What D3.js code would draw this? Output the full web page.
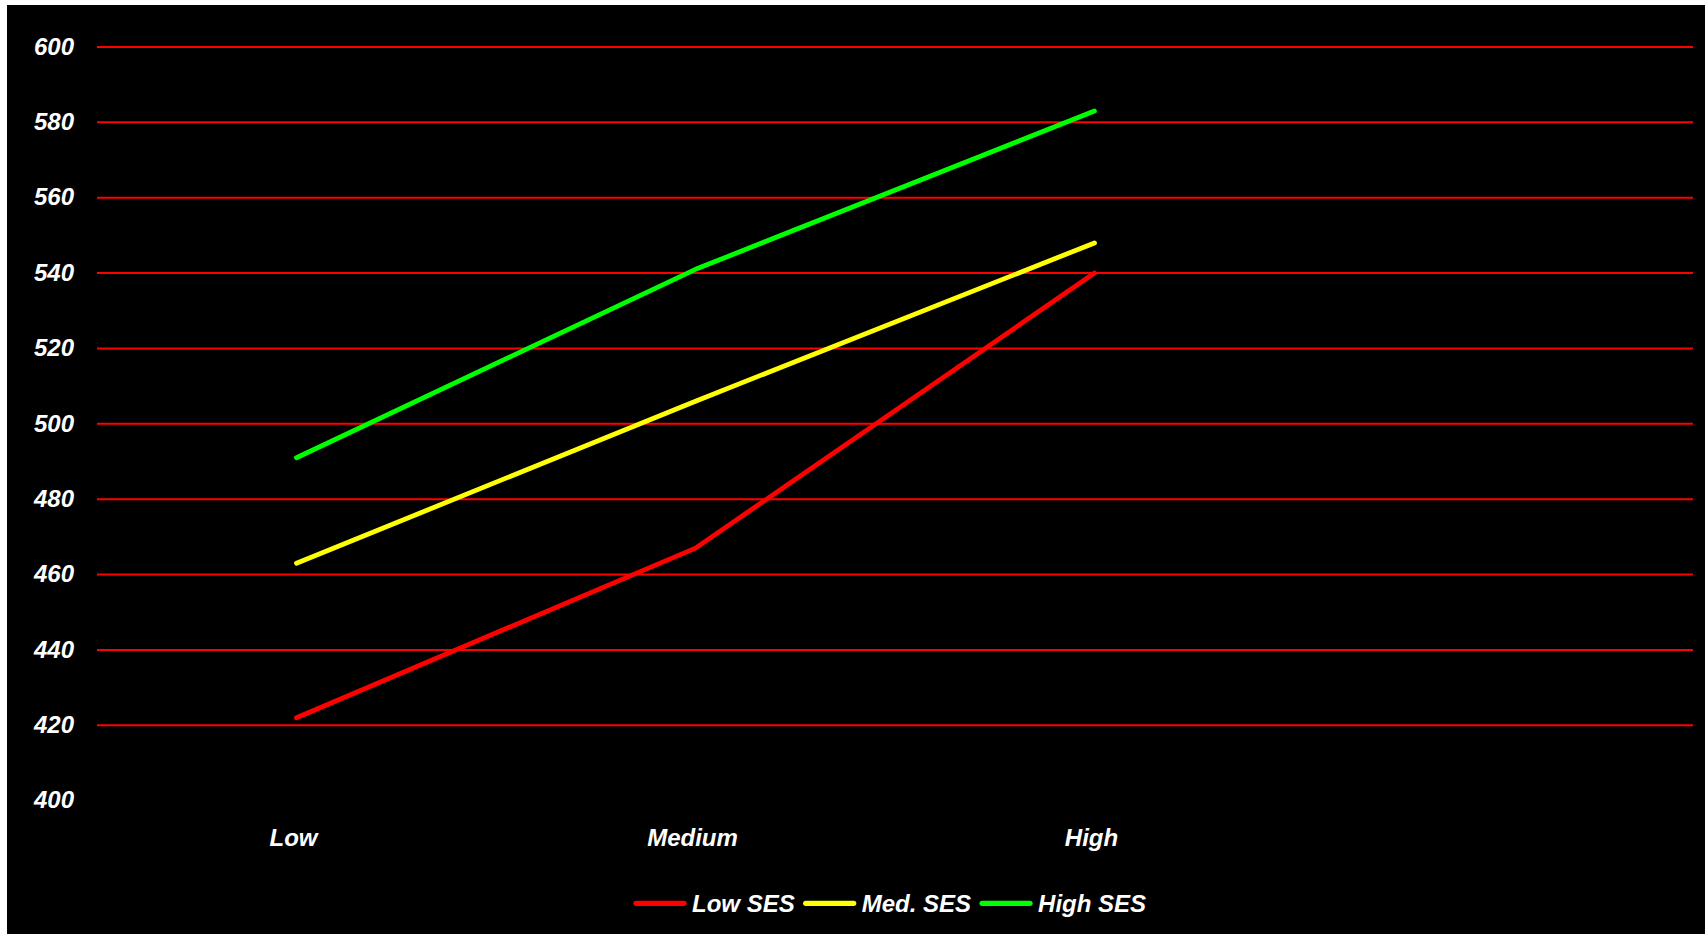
<!DOCTYPE html>
<html>
<head>
<meta charset="utf-8">
<script src="https://cdn.jsdelivr.net/npm/d3@7"></script>
<style>
  html, body { margin: 0; padding: 0; background: #fff; }
  svg { display: block; }
  text { font-family: "Liberation Sans", Arial, sans-serif; font-weight: bold; font-style: italic; fill: #fff; }
</style>
</head>
<body>
<svg id="chart" width="1705" height="934"></svg>
<script>
// Categories (a trailing blank slot leaves room on the right)
const categories = ["Low", "Medium", "High", " "];
const seriesNames = ["Low SES", "Med. SES", "High SES"];
const seriesColors = ["#ff0000", "#ffff00", "#00ff00"];
const lowSES  = [422, 467, 540];
const medSES  = [463, 506, 548];
const highSES = [491, 541, 583];
const yTicks = [400, 420, 440, 460, 480, 500, 520, 540, 560, 580, 600];

const series = [lowSES, medSES, highSES];
const FONT = "'Liberation Sans', Arial, sans-serif";
const FS = 24;

const svg = d3.select("#chart");

// black plot backdrop
svg.append("rect").attr("x", 7).attr("y", 5).attr("width", 1705 - 7).attr("height", 934 - 5).attr("fill", "#000");

const x = d3.scaleBand().domain(categories).range([97, 1693]).padding(0);
const y = d3.scaleLinear().domain([400, 600]).range([800.6, 47]);

// horizontal gridlines (none at the baseline)
svg.append("g").selectAll("line")
  .data(yTicks.filter(t => t > 400))
  .join("line")
  .attr("x1", 97).attr("x2", 1693)
  .attr("y1", d => y(d)).attr("y2", d => y(d))
  .attr("stroke", "#ff0000").attr("stroke-width", 2);

// y axis labels
const yAxis = d3.axisLeft(y).tickValues(yTicks).tickSize(0).tickPadding(0).tickFormat(d3.format("d"));
const gy = svg.append("g").attr("transform", "translate(74,0)").call(yAxis);
gy.select(".domain").remove();
gy.selectAll("text")
  .attr("font-size", FS).attr("fill", "#fff").attr("dy", "0.3em")
  .style("font-family", FONT);

// x axis labels
const xAxis = d3.axisBottom(x).tickSize(0).tickPadding(0);
const gx = svg.append("g").attr("transform", "translate(-3,0)").call(xAxis);
gx.select(".domain").remove();
gx.selectAll("text")
  .attr("y", 845.5).attr("dy", 0)
  .attr("font-size", FS).attr("fill", "#fff")
  .style("font-family", FONT);

// series lines
const line = d3.line()
  .x((d, i) => x(categories[i]) + x.bandwidth() / 2)
  .y(d => y(d));

svg.append("g").selectAll("path")
  .data(series)
  .join("path")
  .attr("d", d => line(d))
  .attr("fill", "none")
  .attr("stroke", (d, i) => seriesColors[i])
  .attr("stroke-width", 4.8)
  .attr("stroke-linecap", "round")
  .attr("stroke-linejoin", "round");

// legend: swatch line, label, then the next entry
const legend = svg.append("g");
let lx = 636;
const ly = 903.3;
seriesNames.forEach((name, i) => {
  legend.append("line")
    .attr("x1", lx).attr("x2", lx + 48)
    .attr("y1", ly).attr("y2", ly)
    .attr("stroke", seriesColors[i]).attr("stroke-width", 5.2)
    .attr("stroke-linecap", "round");
  const t = legend.append("text")
    .attr("x", lx + 56).attr("y", 912.3)
    .attr("font-size", FS)
    .text(name);
  lx += 56 + t.node().getComputedTextLength() + 11;
});
</script>
</body>
</html>
